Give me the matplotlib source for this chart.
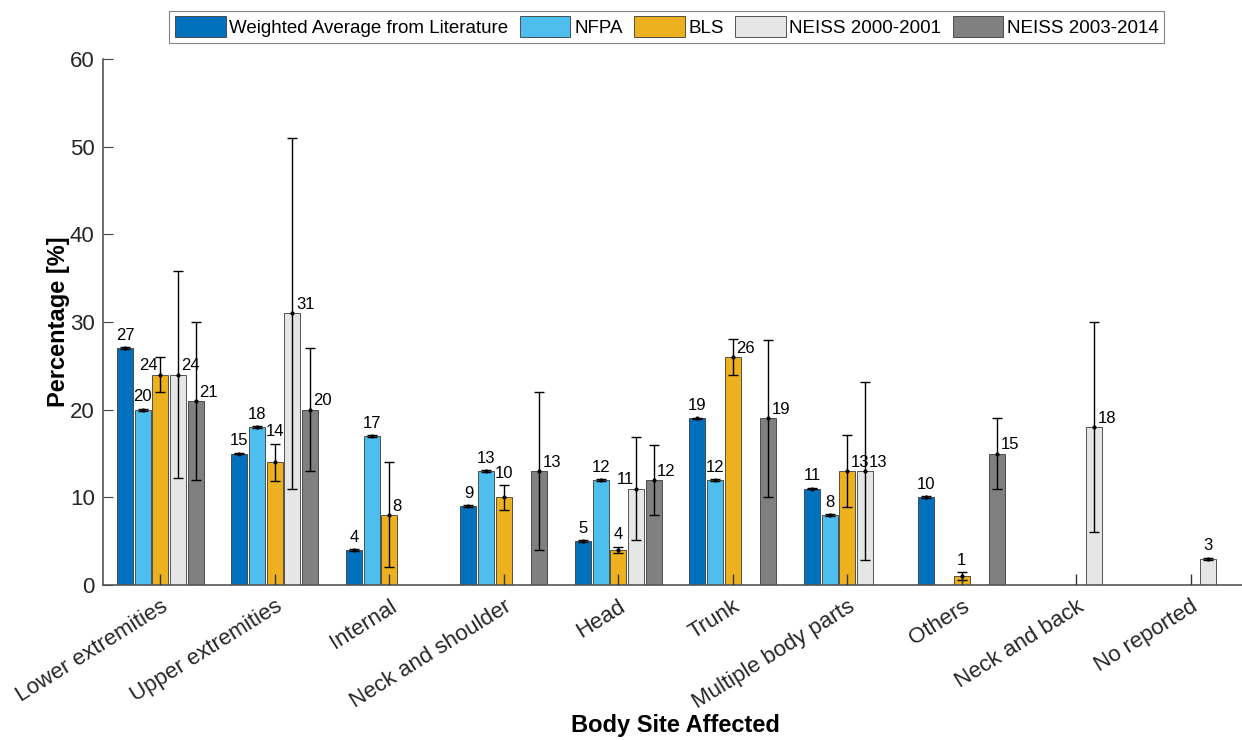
import numpy as np
import matplotlib
matplotlib.use("Agg")
import matplotlib.pyplot as plt

plt.rcParams['font.family'] = ['Liberation Sans', 'DejaVu Sans']

# data
sites = ["Lower extremities", "Upper extremities", "Internal", "Neck and shoulder",
         "Head", "Trunk", "Multiple body parts", "Others", "Neck and back", "No reported"]
series = ["Weighted Average from Literature", "NFPA", "BLS",
          "NEISS 2000-2001", "NEISS 2003-2014"]
nan = np.nan
weighted = [27, 15, 4, 9, 5, 19, 11, 10, nan, nan]
nfpa = [20, 18, 17, 13, 12, 12, 8, nan, nan, nan]
bls = [24, 14, 8, 10, 4, 26, 13, 1, nan, nan]
neiss_0001 = [24, 31, nan, nan, 11, nan, 13, nan, 18, 3]
neiss_0314 = [21, 20, nan, 13, 12, 19, nan, 15, nan, nan]

weighted_err = [0.1] * 10
nfpa_err = [0.1] * 10
bls_err = [2.0, 2.1, 6.0, 1.4, 0.35, 2.1, 4.1, 0.45, nan, nan]
neiss_0001_err = [11.8, 20.0, nan, nan, 5.9, nan, 10.2, nan, 12.0, 0.1]
neiss_0314_err = [9.0, 7.0, nan, 9.0, 4.0, 9.0, nan, 4.0, nan, nan]
bls_stub = [1.3] * 10   # little error stubs sitting at the BLS position

colors = ["#0072BD", "#4DBEEE", "#EDB120", "#E6E6E6", "#808080"]
values = [weighted, nfpa, bls, neiss_0001, neiss_0314]
errors = [weighted_err, nfpa_err, bls_err, neiss_0001_err, neiss_0314_err]

fig = plt.figure(figsize=(12.42, 7.40), dpi=100)
ax = fig.add_axes([103 / 1242, 155 / 740, 1145 / 1242, 526 / 740])

x = np.arange(1, len(sites) + 1)
pitch = 0.154
width = 0.14

# manual label placement where the reference moved it
label_side = {(2, 0): "left", (2, 1): "above", (3, 4): "left"}

for i, (name, vals, errs, col) in enumerate(zip(series, values, errors, colors)):
    xs = x + (i - 2) * pitch
    vals = np.array(vals, dtype=float)
    errs = np.array(errs, dtype=float)
    ax.bar(xs, vals, width, color=col, edgecolor="#3a3a3a", linewidth=0.6,
           label=name, zorder=2)
    ok = ~np.isnan(vals)
    ax.errorbar(xs[ok], vals[ok], yerr=errs[ok], fmt=".", color="black",
                ms=4, elinewidth=1.0, capsize=3.5, capthick=1.0, zorder=3)
    for j in np.where(ok)[0]:
        v, e = vals[j], errs[j]
        side = label_side.get((i, j), "above" if e <= 1.5 else "right")
        txt = f"{v:.0f}"
        if side == "above":
            ax.text(xs[j], v + e + 0.5, txt, ha="center", va="bottom",
                    fontsize=12, zorder=4)
        elif side == "right":
            ax.text(xs[j] + 0.03, v + 1.0, txt, ha="left", va="center",
                    fontsize=12, zorder=4)
        else:
            ax.text(xs[j] - 0.02, v + 1.0, txt, ha="right", va="center",
                    fontsize=12, zorder=4)

ax.vlines(x, 0, bls_stub, color="#333333", linewidth=1.0, zorder=3)

ax.set_xlim(0.5, 10.5)
ax.set_ylim(0, 60)
ax.set_yticks(range(0, 61, 10))
ax.set_xticks(x)
ax.set_xticklabels(sites, rotation=32, ha="right", rotation_mode="anchor",
                   fontsize=16)
ax.tick_params(axis="y", direction="in", length=7, labelsize=16, color="#444444",
               labelcolor="#262626", pad=6)
ax.tick_params(axis="x", length=0, pad=8, labelcolor="#262626")
for s in ["top", "right"]:
    ax.spines[s].set_visible(False)
for s in ["left", "bottom"]:
    ax.spines[s].set_color("#555555")
    ax.spines[s].set_linewidth(1.2)

ax.set_ylabel("Percentage [%]", fontsize=17, fontweight="bold", labelpad=0)
ax.set_xlabel("Body Site Affected", fontsize=17, fontweight="bold")
ax.xaxis.set_label_coords(0.5, -0.245)

leg = fig.legend(loc="center", bbox_to_anchor=(0.537, 0.964), ncol=5,
                 fontsize=13.5, frameon=True, fancybox=False, edgecolor="#666666",
                 handlelength=2.7, handleheight=1.3, handletextpad=0.2,
                 columnspacing=0.6, borderpad=0.3)
leg.get_frame().set_linewidth(0.8)

fig.savefig("out.png", dpi=100)
